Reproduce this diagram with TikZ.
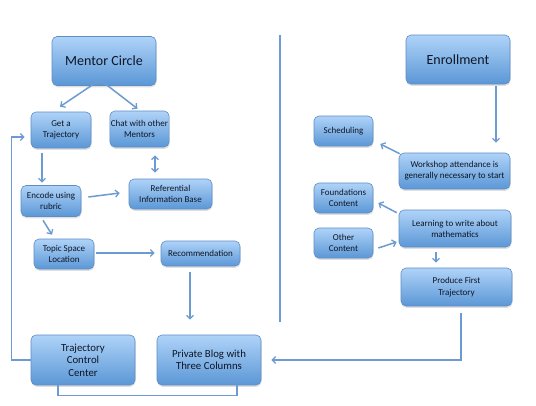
\documentclass[tikz,border=0pt]{standalone}
\usepackage{fontspec}
\setmainfont{Carlito}
\usetikzlibrary{calc,shadows,arrows.meta}
\definecolor{boxtop}{HTML}{AFD3F8}
\definecolor{boxbot}{HTML}{5B97D6}
\definecolor{boxline}{HTML}{5E8DC6}
\definecolor{conn}{HTML}{6C9BD2}
\definecolor{txt}{HTML}{0E1626}
\tikzset{
  box/.style={rectangle, rounded corners=5pt, draw=boxline, line width=0.6pt,
    top color=boxtop, bottom color=boxbot, align=center, text=txt,
    inner sep=1pt, drop shadow={opacity=0.25, shadow xshift=0.5pt, shadow yshift=-1.8pt}},
  small/.style={box, font=\fontsize{9}{11}\selectfont},
  mid/.style={box, font=\fontsize{10.8}{12.5}\selectfont},
  big/.style={box, font=\fontsize{14}{16}\selectfont},
  conline/.style={draw=conn, line width=1.5pt},
  arr/.style={conline, -{Straight Barb[length=3.5pt,width=7pt,line width=1.3pt]}},
  darr/.style={conline, {Straight Barb[length=3.5pt,width=7pt,line width=1.3pt]}-{Straight Barb[length=3.5pt,width=7pt,line width=1.3pt]}}
}
\begin{document}
\begin{tikzpicture}[x=1pt,y=-1pt]
\useasboundingbox[fill=white] (0,0) rectangle (536,405);
% left column
\node[big, minimum width=104pt, minimum height=49pt] (mentor) at (104,61) {Mentor Circle};
\node[small, minimum width=60pt, minimum height=36pt] (getT) at (61,130) {Get a\\Trajectory};
\node[small, minimum width=59pt, minimum height=36pt] (chat) at (139.5,129) {Chat with other\\Mentors};
\node[small, minimum width=60pt, minimum height=31pt] (encode) at (51,201) {Encode using\\rubric};
\node[small, minimum width=83pt, minimum height=30pt] (refinfo) at (170.5,194) {Referential\\Information Base};
\node[small, minimum width=60pt, minimum height=30pt] (topic) at (64,254) {Topic Space\\Location};
\node[small, minimum width=79pt, minimum height=25pt] (recomm) at (200.5,253.5) {Recommendation};
\node[mid, minimum width=104pt, minimum height=50pt] (tcc) at (83,360) {Trajectory\\Control\\Center};
\node[mid, minimum width=104pt, minimum height=50pt] (blog) at (209,360) {Private Blog with\\Three Columns};
% right column
\node[big, minimum width=104pt, minimum height=49pt] (enroll) at (458,59.5) {Enrollment};
\node[small, minimum width=59pt, minimum height=30pt] (sched) at (343.5,131) {Scheduling};
\node[small, minimum width=111pt, minimum height=36pt] (workshop) at (454.5,171) {Workshop attendance is\\generally necessary to start};
\node[small, minimum width=59pt, minimum height=30pt] (found) at (343.5,198) {Foundations\\Content};
\node[small, minimum width=112pt, minimum height=37pt] (learn) at (455,228.5) {Learning to write about\\mathematics};
\node[small, minimum width=59pt, minimum height=30pt] (other) at (343.5,243) {Other\\Content};
\node[small, font=\fontsize{9}{11.5}\selectfont, minimum width=111pt, minimum height=38pt] (produce) at (456.5,287) {Produce First\\Trajectory};
% divider
\coordinate (dtop) at (280,35);
\coordinate (dbot) at (280,322);
\draw[conline, line width=1.2pt] (dtop) -- (dbot);
% connectors left
\draw[arr] ($(mentor.south)+(-4,-6)$) -- ($(getT.north)+(-1,-5)$);
\draw[arr] ($(mentor.south)+(-4,-6)$) -- ($(chat.north)+(-2,-2)$);
\draw[arr] ($(getT.south)+(-19,5)$) -- ($(encode.north)+(-9,-2.5)$);
\draw[darr] ($(chat.south)+(15.5,8)$) -- ($(refinfo.north)+(-15.5,-6)$);
\draw[arr] ($(encode.east)+(7,-4)$) -- ($(refinfo.west)+(-9,-1)$);
\draw[arr] ($(encode.south)+(-8,3.5)$) -- ($(topic.north)+(-12,-4)$);
\draw[arr] ($(topic.east)+(2,-1)$) -- ($(recomm.west)+(-6,-0.5)$);
\draw[arr] ($(recomm.south)+(-10.5,6)$) -- ($(blog.north)+(-19,-15)$);
\draw[arr] (tcc.west) -- ++(-19,0) |- ($(getT.west)+(-6,7)$);
\draw[conline] ($(tcc.south)+(-25,0)$) -- ++(0,10) -| ($(blog.south)+(28,0)$);
% connectors right
\draw[arr] ($(produce.south)+(4.5,7)$) |- ($(blog.east)+(10,0)$);
\draw[arr] ($(enroll.south)+(38,2)$) -- ($(workshop.north)+(41.5,-10)$);
\draw[arr] ($(workshop.north west)+(1,1)$) -- ($(sched.east)+(7,13)$);
\draw[arr] ($(learn.north west)+(-2,3)$) -- ($(found.east)+(5,5)$);
\draw[arr] ($(other.east)+(5,5)$) -- ($(learn.west)+(-2,13.5)$);
\draw[arr] ($(learn.south)+(-19,5)$) -- ($(produce.north)+(-20.5,-5)$);
\end{tikzpicture}
\end{document}
